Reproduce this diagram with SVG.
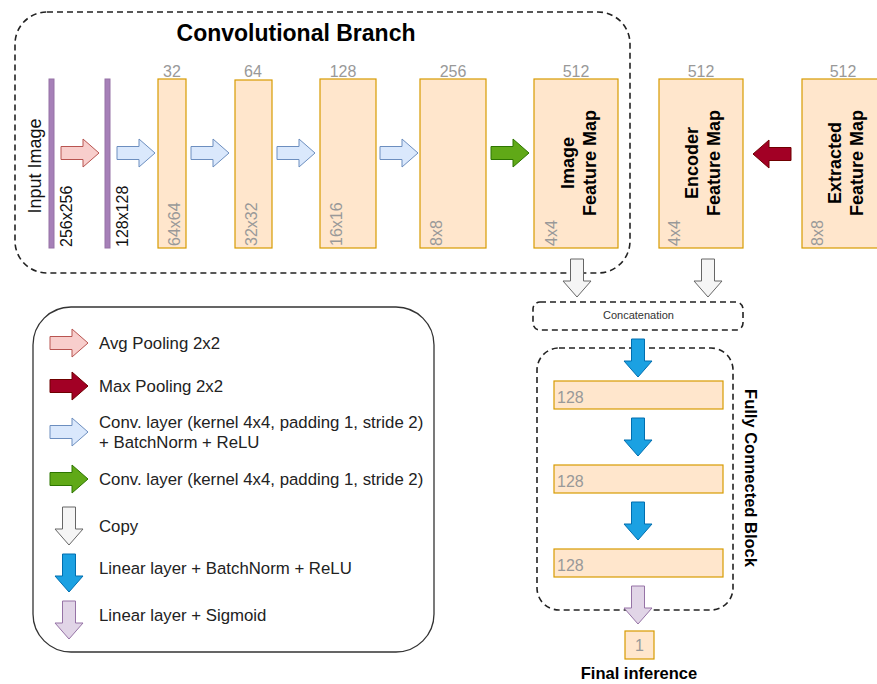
<svg xmlns="http://www.w3.org/2000/svg" xmlns:xlink="http://www.w3.org/1999/xlink" width="877" height="684" viewBox="0 0 877 684">
<style>
text{font-family:"Liberation Sans",Arial,sans-serif}
.dash{fill:none;stroke:#222;stroke-width:1.6;stroke-dasharray:6 4}
.fm{fill:#ffe6cc;stroke:#d79b00;stroke-width:1.2}
.bar{fill:#a680b8;stroke:#9673a6;stroke-width:1}
.g{fill:#999;font-size:16px}
.k{fill:#111;font-size:16px}
.b{fill:#000;font-weight:bold;font-size:18px}
.lg{fill:#222;font-size:16.8px}
.avg{fill:#f8cecc;stroke:#b85450}
.max{fill:#a20025;stroke:#6f0000}
.conv{fill:#dae8fc;stroke:#6c8ebf}
.grn{fill:#60a917;stroke:#2d7600}
.cpy{fill:#f5f5f5;stroke:#666}
.lin{fill:#1ba1e2;stroke:#006eaf}
.sig{fill:#e1d5e7;stroke:#9673a6}
</style>
<defs>
<path id="ar" d="M0,-6.5 H22 V-14 L38,0 L22,14 V6.5 H0 Z" stroke-width="1"/>
</defs>
<rect width="877" height="684" fill="#fff"/>

<g id="conv-branch">
<rect class="dash" x="15" y="12" width="615" height="261" rx="32"/>
<text x="296" y="41" text-anchor="middle" style="font-weight:bold;font-size:23px" fill="#000">Convolutional Branch</text>
</g>

<g id="input-image">
<rect class="bar" x="49" y="79" width="5" height="169"/>
<text class="k" transform="translate(41,166) rotate(-90)" text-anchor="middle" style="font-size:18px">Input Image</text>
<text class="k" transform="translate(72,247) rotate(-90)">256x256</text>
</g>
<g id="pooled-image">
<rect class="bar" x="105" y="79" width="5" height="169"/>
<text class="k" transform="translate(128,247) rotate(-90)">128x128</text>
</g>

<g id="fm32">
<rect class="fm" x="158" y="79" width="28" height="169"/>
<text class="g" x="172" y="77" text-anchor="middle">32</text>
<text class="g" transform="translate(180,246) rotate(-90)">64x64</text>
</g>
<g id="fm64">
<rect class="fm" x="235" y="80" width="37" height="168"/>
<text class="g" x="253" y="77" text-anchor="middle">64</text>
<text class="g" transform="translate(257,246) rotate(-90)">32x32</text>
</g>
<g id="fm128">
<rect class="fm" x="320" y="79" width="56" height="169"/>
<text class="g" x="343" y="77" text-anchor="middle">128</text>
<text class="g" transform="translate(342,246) rotate(-90)">16x16</text>
</g>
<g id="fm256">
<rect class="fm" x="420" y="79" width="66" height="169"/>
<text class="g" x="453" y="77" text-anchor="middle">256</text>
<text class="g" transform="translate(442,246) rotate(-90)">8x8</text>
</g>
<g id="image-feature-map">
<rect class="fm" x="534" y="79" width="84" height="169"/>
<text class="g" x="576" y="77" text-anchor="middle">512</text>
<text class="g" transform="translate(557,246) rotate(-90)">4x4</text>
<text class="b" transform="translate(578,163) rotate(-90)" text-anchor="middle"><tspan x="0" y="-4.5">Image</tspan><tspan x="0" y="17.5">Feature Map</tspan></text>
</g>
<g id="encoder-feature-map">
<rect class="fm" x="659" y="79" width="84" height="169"/>
<text class="g" x="701" y="77" text-anchor="middle">512</text>
<text class="g" transform="translate(680,246) rotate(-90)">4x4</text>
<text class="b" transform="translate(702,163) rotate(-90)" text-anchor="middle"><tspan x="0" y="-4.5">Encoder</tspan><tspan x="0" y="17.5">Feature Map</tspan></text>
</g>
<g id="extracted-feature-map">
<rect class="fm" x="802" y="79" width="84" height="169"/>
<text class="g" x="843" y="77" text-anchor="middle">512</text>
<text class="g" transform="translate(823,246) rotate(-90)">8x8</text>
<text class="b" transform="translate(845,163) rotate(-90)" text-anchor="middle"><tspan x="0" y="-4.5">Extracted</tspan><tspan x="0" y="17.5">Feature Map</tspan></text>
</g>

<g id="concatenation">
<rect class="dash" x="533" y="302" width="210" height="28" rx="7"/>
<text x="638.5" y="319" text-anchor="middle" fill="#333" style="font-size:11px">Concatenation</text>
</g>

<g id="fc-block">
<rect class="dash" x="537" y="348" width="196" height="262" rx="22"/>
<text transform="translate(745,478) rotate(90)" text-anchor="middle" fill="#000" style="font-weight:bold;font-size:16.5px">Fully Connected Block</text>
</g>
<g id="fc1">
<rect class="fm" x="554" y="381" width="169" height="28"/>
<text class="g" x="557" y="403">128</text>
</g>
<g id="fc2">
<rect class="fm" x="554" y="465" width="169" height="28"/>
<text class="g" x="557" y="487">128</text>
</g>
<g id="fc3">
<rect class="fm" x="554" y="549" width="169" height="28"/>
<text class="g" x="557" y="571">128</text>
</g>
<g id="output">
<rect class="fm" x="625" y="631" width="29" height="28"/>
<text class="g" x="639.5" y="651" text-anchor="middle">1</text>
<text x="639" y="679" text-anchor="middle" fill="#000" style="font-weight:bold;font-size:16.5px">Final inference</text>
</g>

<g id="connectors">
<use href="#ar" class="avg" transform="translate(61,153)"/>
<use href="#ar" class="conv" transform="translate(117,153)"/>
<use href="#ar" class="conv" transform="translate(191,153)"/>
<use href="#ar" class="conv" transform="translate(277,153)"/>
<use href="#ar" class="conv" transform="translate(380,153)"/>
<use href="#ar" class="grn" transform="translate(491,153)"/>
<use href="#ar" class="max" transform="translate(791,154) rotate(180)"/>
<use href="#ar" class="cpy" transform="translate(577,259) rotate(90)"/>
<use href="#ar" class="cpy" transform="translate(708,259) rotate(90)"/>
<use href="#ar" class="lin" transform="translate(638,339) rotate(90)"/>
<use href="#ar" class="lin" transform="translate(638,418) rotate(90)"/>
<use href="#ar" class="lin" transform="translate(638,502) rotate(90)"/>
<use href="#ar" class="sig" transform="translate(638,586) rotate(90)"/>
</g>

<g id="legend">
<rect x="33" y="307" width="401" height="345" rx="38" fill="none" stroke="#333" stroke-width="1.3"/>
<use href="#ar" class="avg" transform="translate(50,343)"/>
<text class="lg" x="99" y="349">Avg Pooling 2x2</text>
<use href="#ar" class="max" transform="translate(50,386)"/>
<text class="lg" x="99" y="392">Max Pooling 2x2</text>
<use href="#ar" class="conv" transform="translate(50,432)"/>
<text class="lg" x="99" y="428">Conv. layer (kernel 4x4, padding 1, stride 2)</text>
<text class="lg" x="99" y="448">+ BatchNorm + ReLU</text>
<use href="#ar" class="grn" transform="translate(50,479)"/>
<text class="lg" x="99" y="485">Conv. layer (kernel 4x4, padding 1, stride 2)</text>
<use href="#ar" class="cpy" transform="translate(69,507) rotate(90)"/>
<text class="lg" x="99" y="532">Copy</text>
<use href="#ar" class="lin" transform="translate(69,554) rotate(90)"/>
<text class="lg" x="99" y="574">Linear layer + BatchNorm + ReLU</text>
<use href="#ar" class="sig" transform="translate(69,601) rotate(90)"/>
<text class="lg" x="99" y="621">Linear layer + Sigmoid</text>
</g>
</svg>
